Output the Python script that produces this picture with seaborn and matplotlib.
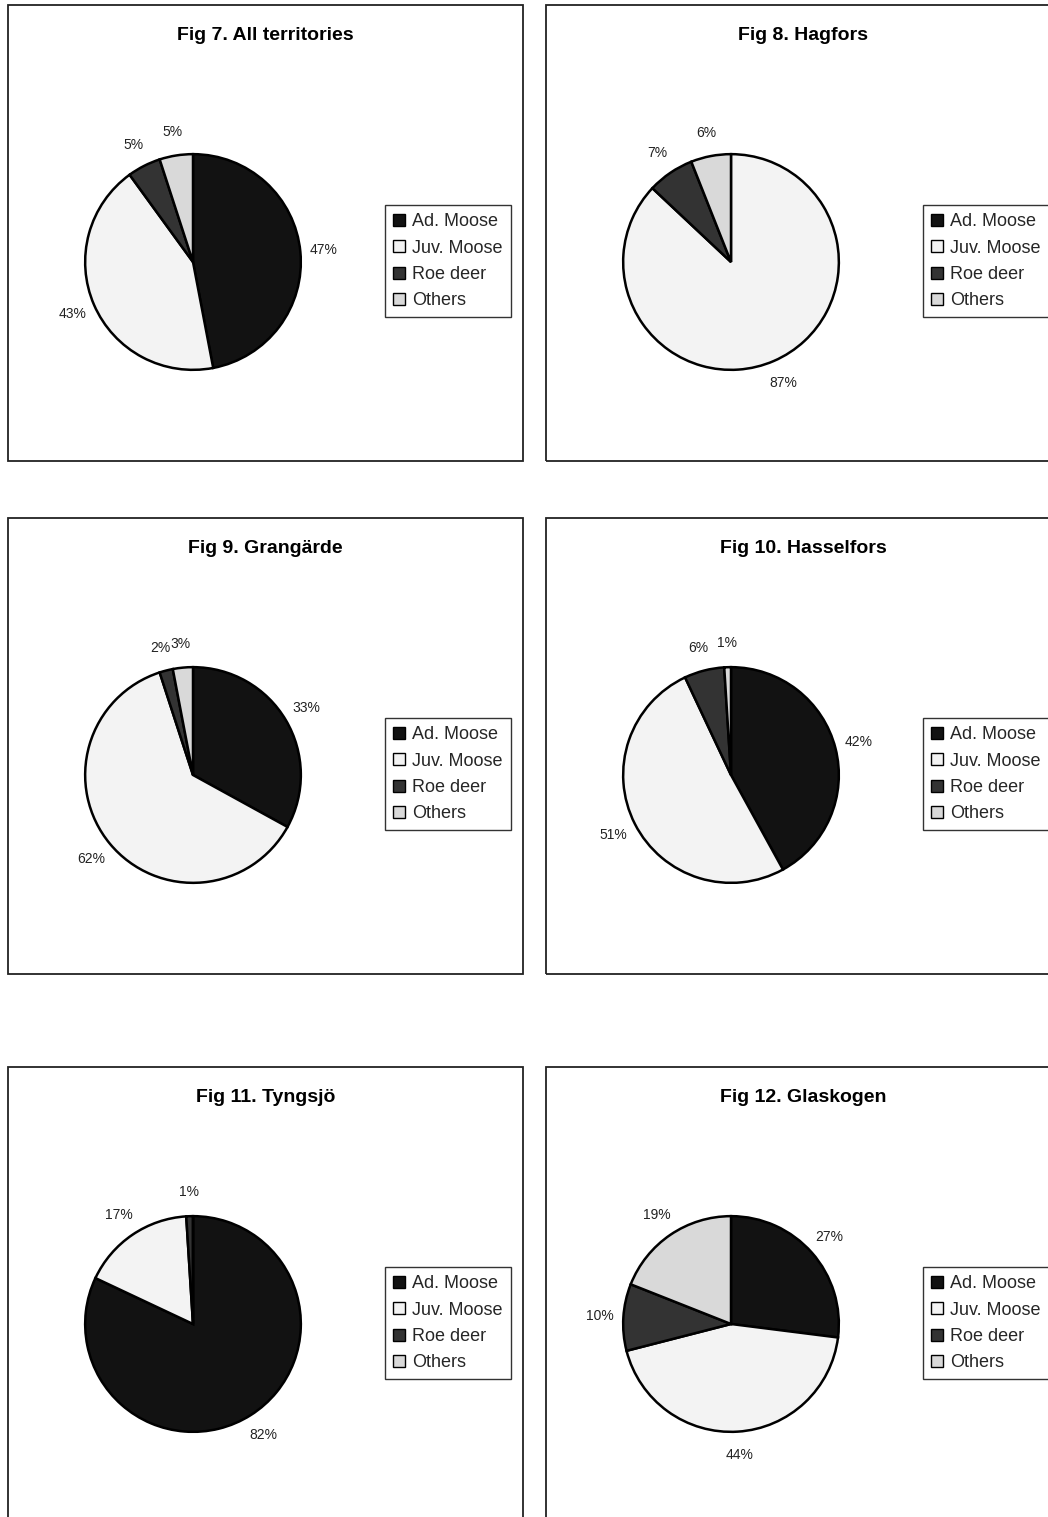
import matplotlib
matplotlib.use("Agg")
import matplotlib.pyplot as plt
from matplotlib.patches import Rectangle, Patch
import seaborn as sns

sns.set_theme(style="white")
plt.rcParams['font.family'] = ['Liberation Sans', 'DejaVu Sans']

categories = ["Ad. Moose", "Juv. Moose", "Roe deer", "Others"]
titles = ["Fig 7. All territories", "Fig 8. Hagfors", "Fig 9. Grangärde",
          "Fig 10. Hasselfors", "Fig 11. Tyngsjö", "Fig 12. Glaskogen"]
all_territories = [47, 43, 5, 5]
hagfors = [0, 87, 7, 6]
grangarde = [33, 62, 2, 3]
hasselfors = [42, 51, 6, 1]
tyngsjo = [82, 17, 1, 0]
glaskogen = [27, 44, 10, 19]
series = [all_territories, hagfors, grangarde, hasselfors, tyngsjo, glaskogen]

colors = ["#121212", "#f3f3f3", "#333333", "#d9d9d9"]

W, H = 1048, 1517
fig = plt.figure(figsize=(W / 100, H / 100), dpi=100)
fig.patch.set_facecolor("white")

col_box_x = [8, 546]
box_w = 515
row_box_y = [5, 518, 1067]
box_h = 456
pie_cx_off = 185   # from box left
pie_cy_off = 257   # from box top
R = 110
leg_x_off = 377
leg_y_off = 200


def fx(px):
    return px / W


def fy(py):
    return 1 - py / H


for i, (title, vals) in enumerate(zip(titles, series)):
    r, c = divmod(i, 2)
    bx, by = col_box_x[c], row_box_y[r]
    # panel border
    fig.patches.append(Rectangle((fx(bx), fy(by + box_h)), box_w / W, box_h / H,
                                 transform=fig.transFigure, fill=False,
                                 edgecolor="#222222", linewidth=1.3, zorder=0))
    fig.text(fx(bx + box_w / 2), fy(by + 30), title, ha="center", va="center",
             fontsize=14, fontweight="bold", color="black")
    cx, cy = bx + pie_cx_off, by + pie_cy_off
    ax = fig.add_axes([fx(cx - R), fy(cy + R), 2 * R / W, 2 * R / H])
    ax.pie(vals, colors=colors, startangle=90, counterclock=False,
           radius=1, autopct=lambda p: f"{p:.0f}%" if p > 0.4 else "",
           pctdistance=1.22,
           wedgeprops=dict(edgecolor="black", linewidth=1.8),
           textprops=dict(fontsize=10, color="#222222"))
    ax.set_xlim(-1.02, 1.02)
    ax.set_ylim(-1.02, 1.02)
    ax.set_aspect("equal")
    ax.axis("off")
    handles = [Patch(facecolor=col, edgecolor="black", linewidth=1.0) for col in colors]
    leg = fig.legend(handles, categories, loc="upper left",
                     bbox_to_anchor=(fx(bx + leg_x_off), fy(by + leg_y_off)),
                     fontsize=13, frameon=True, fancybox=False,
                     handlelength=0.65, handleheight=0.65, handletextpad=0.4,
                     labelspacing=0.52, borderpad=0.45, borderaxespad=0)
    fr = leg.get_frame()
    fr.set_edgecolor("black")
    fr.set_linewidth(1.0)

fig.savefig("out.png", dpi=100, facecolor="white")
